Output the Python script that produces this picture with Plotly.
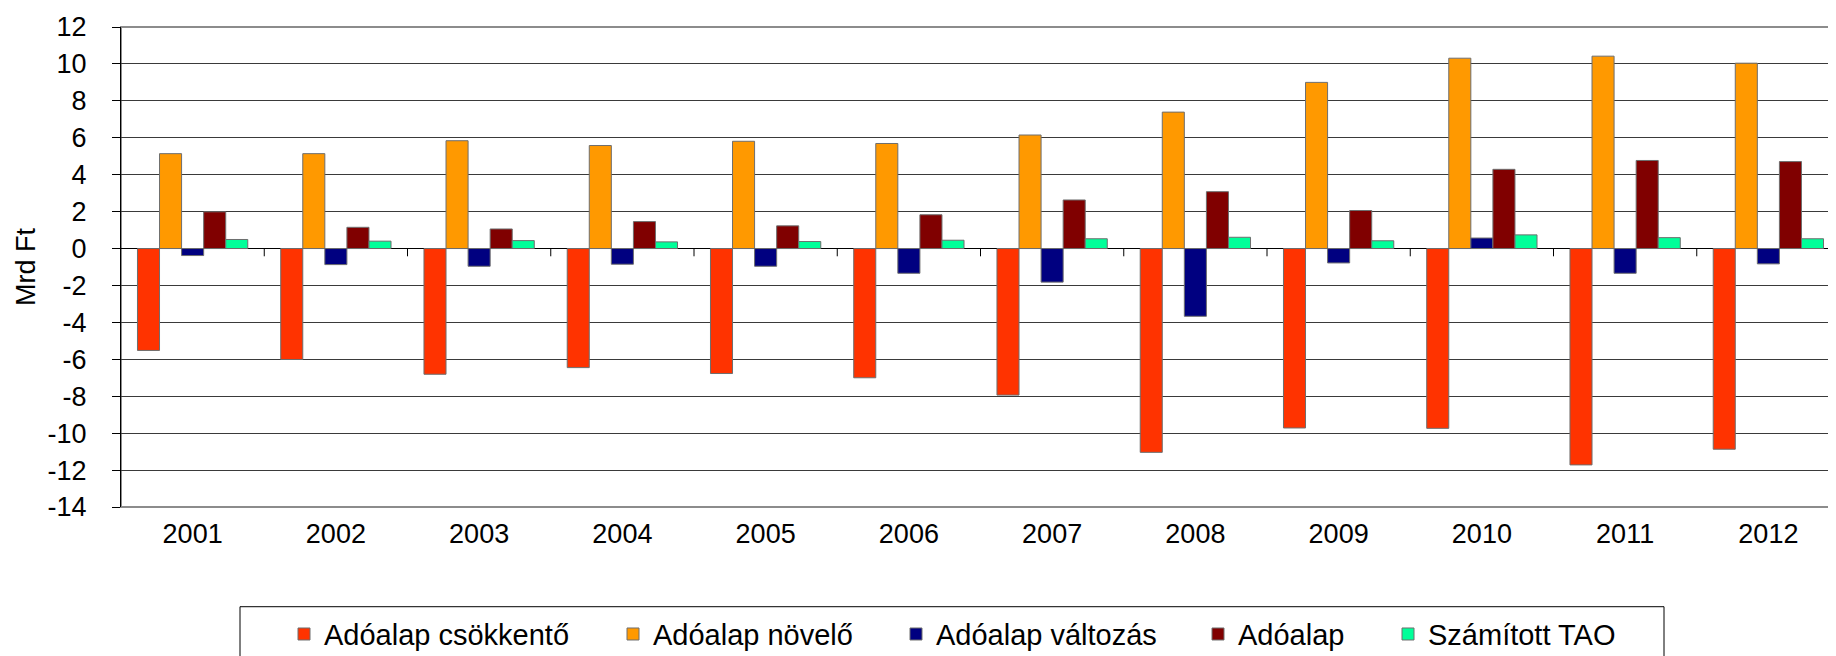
import plotly.graph_objects as go

years = ["2001", "2002", "2003", "2004", "2005", "2006", "2007", "2008", "2009", "2010", "2011", "2012"]
csokkento = [-5.52, -6.01, -6.81, -6.45, -6.77, -7.00, -7.94, -11.04, -9.72, -9.74, -11.72, -10.87]
novelo = [5.14, 5.14, 5.84, 5.58, 5.81, 5.69, 6.15, 7.39, 9.00, 10.31, 10.42, 10.04]
valtozas = [-0.38, -0.87, -0.96, -0.85, -0.96, -1.34, -1.82, -3.67, -0.78, 0.57, -1.34, -0.83]
adoalap = [1.99, 1.15, 1.06, 1.46, 1.23, 1.83, 2.63, 3.08, 2.06, 4.29, 4.77, 4.71]
tao = [0.49, 0.40, 0.43, 0.36, 0.38, 0.45, 0.53, 0.61, 0.42, 0.74, 0.59, 0.53]

y_tick_values = [12, 10, 8, 6, 4, 2, 0, -2, -4, -6, -8, -10, -12, -14]
y_tick_labels = ["12", "10", "8", "6", "4", "2", "0", "-2", "-4", "-6", "-8", "-10", "-12", "-14"]

series = [
    ("Adóalap csökkentő", csokkento, "#FF3300"),
    ("Adóalap növelő", novelo, "#FF9900"),
    ("Adóalap változás", valtozas, "#000080"),
    ("Adóalap", adoalap, "#800000"),
    ("Számított TAO", tao, "#00FF99"),
]

W, H = 1836, 656
ML, MR, MT, MB = 113, 4, 19, 146
PW = W - ML - MR
PH = H - MT - MB

font = "Liberation Sans, Arial, sans-serif"
FS = 27
LFS = 29

# legend symbol centres (pixels) for each entry, as in the original layout
legend_sym_px = [297, 626, 909, 1211, 1401]
legend_names = ["legend", "legend2", "legend3", "legend4", "legend5"]

fig = go.Figure()
for (name, vals, col), lg in zip(series, legend_names):
    fig.add_trace(go.Bar(x=years, y=vals, name=name, legend=lg,
                         marker=dict(color=col, line=dict(color="#6e6e6e", width=1))))

legend_top_px = 612
ly = -(legend_top_px - (MT + PH)) / PH

# plot border (gray) + legend box
shapes = [dict(type="rect", xref="paper", yref="paper", x0=0, x1=1, y0=0, y1=1,
               line=dict(color="#8c8c8c", width=2), layer="below"),
          dict(type="rect", xref="paper", yref="paper",
               x0=(232 - ML) / PW, x1=(1656 - ML) / PW, y0=ly, y1=-(720 - (MT + PH)) / PH,
               line=dict(color="#000000", width=1))]
# category boundary tick marks on the zero line
for i in range(len(years) - 1):
    shapes.append(dict(type="line", xref="x", yref="y", x0=i + 0.5, x1=i + 0.5,
                       y0=0, y1=-0.42, line=dict(color="#000000", width=1)))

layout_legends = {}
for lg, px in zip(legend_names, legend_sym_px):
    layout_legends[lg] = dict(orientation="h", x=(px - 21 - ML) / PW, xanchor="left",
                              y=ly - 0.004, yanchor="top", borderwidth=0,
                              bgcolor="rgba(0,0,0,0)",
                              font=dict(size=LFS, family=font), itemwidth=30)

fig.update_layout(
    width=W, height=H,
    margin=dict(l=ML, r=MR, t=MT, b=MB),
    paper_bgcolor="white", plot_bgcolor="white",
    barmode="group", bargap=0.23, bargroupgap=0,
    font=dict(family=font, size=FS, color="black"),
    showlegend=True,
    shapes=shapes,
    xaxis=dict(showgrid=False, showline=False, ticks="", tickfont=dict(size=FS),
               range=[-0.5, 11.5], ticklabelstandoff=8),
    yaxis=dict(range=[-14, 12], tickvals=y_tick_values, ticktext=y_tick_labels,
               showgrid=True, gridcolor="#3a3a3a", gridwidth=1,
               zeroline=True, zerolinecolor="#000000", zerolinewidth=1,
               showline=True, linecolor="#000000", linewidth=1,
               ticks="outside", ticklen=8, tickcolor="#000000",
               tickfont=dict(size=FS), ticklabelstandoff=20,
               title=dict(text="Mrd Ft", font=dict(size=FS), standoff=4)),
    **layout_legends,
)

fig.write_html("out.html")
